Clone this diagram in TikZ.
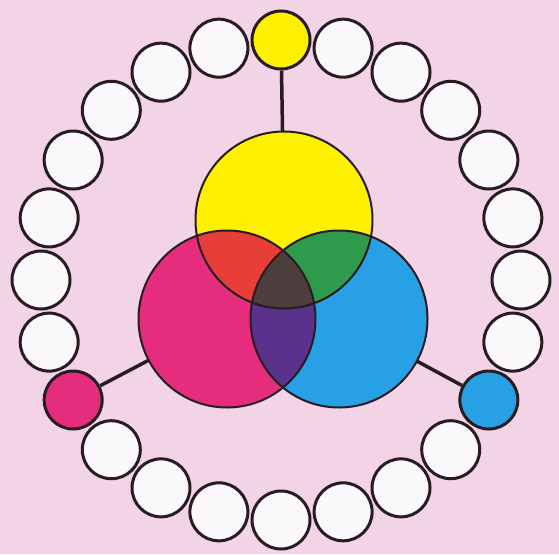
\documentclass[tikz,border=0pt]{standalone}
\usetikzlibrary{calc}
\definecolor{bg}{RGB}{242,212,230}
\definecolor{ink}{RGB}{40,28,34}
\definecolor{yel}{RGB}{255,240,0}
\definecolor{mag}{RGB}{230,45,125}
\definecolor{cya}{RGB}{40,160,230}
\definecolor{redo}{RGB}{232,62,55}
\definecolor{grn}{RGB}{45,155,75}
\definecolor{pur}{RGB}{90,50,140}
\definecolor{drk}{RGB}{78,62,62}
\definecolor{wht}{RGB}{250,248,250}
\begin{document}
\begin{tikzpicture}[x=1pt,y=-1pt,
  ringdot/.style={circle,draw=ink,line width=3pt,minimum size=58pt,inner sep=0pt,fill=wht},
  bigdisc/.style={circle,inner sep=0pt,minimum size=177pt},
  link/.style={draw=ink,line width=3.5pt},
  rim/.style={draw=ink,line width=2pt}]
\fill[bg] (0,0) rectangle (559,554);
\coordinate (c) at (281,280);
% big discs
\node[bigdisc,fill=yel] (Y) at (284,220) {};
\node[bigdisc,fill=mag] (M) at (227,319) {};
\node[bigdisc,fill=cya] (C) at (339,319) {};
\begin{scope}
  \clip (Y.center) circle (88.5pt);
  \fill[redo] (M.center) circle (88.5pt);
  \fill[grn] (C.center) circle (88.5pt);
\end{scope}
\begin{scope}
  \clip (M.center) circle (88.5pt);
  \fill[pur] (C.center) circle (88.5pt);
\end{scope}
\begin{scope}
  \clip (Y.center) circle (88.5pt);
  \clip (M.center) circle (88.5pt);
  \fill[drk] (C.center) circle (88.5pt);
\end{scope}
\foreach \n in {Y,M,C} \draw[rim] (\n.center) circle (88.5pt);
% ring
\foreach \i in {1,...,7,9,10,...,15,17,18,...,23}
  \node[ringdot] (r\i) at ($(c)+({90-15*\i}:240pt)$) {};
\node[ringdot,fill=yel] (r0) at ($(c)+(90:240pt)$) {};
\node[ringdot,fill=cya] (r8) at ($(c)+(-30:240pt)$) {};
\node[ringdot,fill=mag] (r16) at ($(c)+(210:240pt)$) {};
% links
\draw[link] (r0) -- (Y);
\draw[link] (r8) -- (C);
\draw[link] (r16) -- (M);
\end{tikzpicture}
\end{document}
